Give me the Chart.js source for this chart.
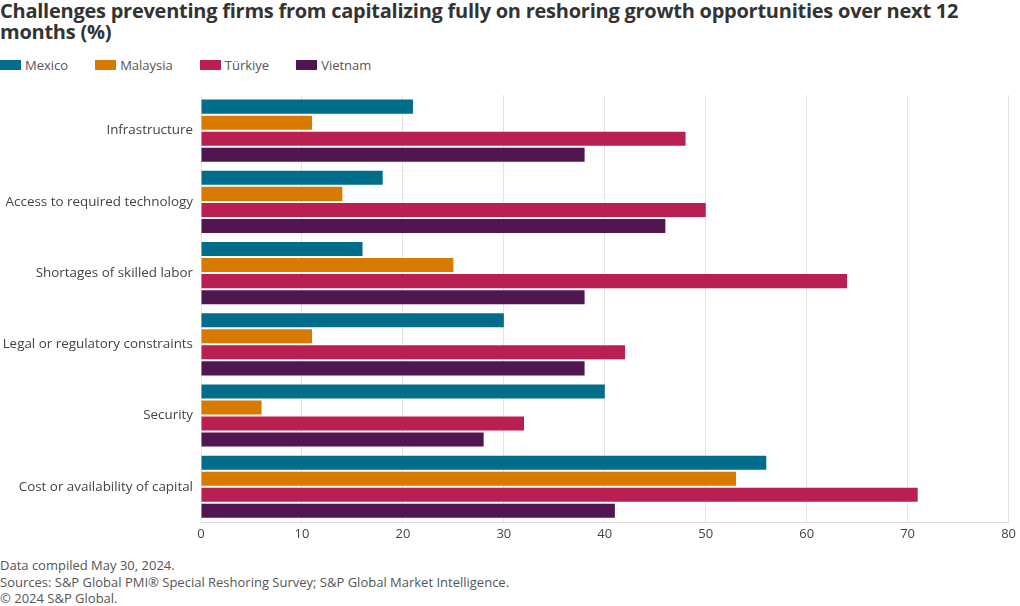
<!DOCTYPE html>
<html>
<head>
<meta charset="utf-8">
<script src="https://cdn.jsdelivr.net/npm/chart.js@4.4.1/dist/chart.umd.min.js"></script>
<style>
  html, body { margin: 0; padding: 0; background: #fff; }
  body { font-family: "Open Sans", sans-serif; }
  #wrap { width: 1020px; height: 606px; position: relative; overflow: hidden; }
  #title { position: absolute; left: 0; top: 0; width: 1010px; font-size: 20px; font-weight: 700; line-height: 21px; color: #333; letter-spacing: -0.25px; }
  #legend { position: absolute; left: 0; top: 56px; font-size: 13px; color: #555; display: flex; }
  #legend .item { display: flex; align-items: center; margin-right: 27px; }
  #legend .box { width: 21px; height: 10px; margin-right: 4px; }
  #chartBox { position: absolute; left: 0; top: 87px; width: 1020px; height: 459px; }
  #footer { position: absolute; left: 0; top: 557px; font-size: 13px; line-height: 16.5px; color: #555; }
</style>
</head>
<body>
<div id="wrap">
  <div id="title">Challenges preventing firms from capitalizing fully on reshoring growth opportunities over next 12 months (%)</div>
  <div id="legend"></div>
  <div id="chartBox"><canvas id="reshoringChart"></canvas></div>
  <div id="footer">Data compiled May 30, 2024.<br>Sources: S&amp;P Global PMI® Special Reshoring Survey; S&amp;P Global Market Intelligence.<br>© 2024 S&amp;P Global.</div>
</div>
<script>
const categories = [
    'Infrastructure',
    'Access to required technology',
    'Shortages of skilled labor',
    'Legal or regulatory constraints',
    'Security',
    'Cost or availability of capital'
];
const mexico   = [21, 18, 16, 30, 40, 56];
const malaysia = [11, 14, 25, 11, 6, 53];
const turkiye  = [48, 50, 64, 42, 32, 71];
const vietnam  = [38, 46, 38, 38, 28, 41];
const xTicks = [0, 10, 20, 30, 40, 50, 60, 70, 80];

Chart.defaults.font.family = '"Open Sans", sans-serif';
Chart.defaults.color = '#444';

function series(label, data, color) {
    return {
        label: label,
        data: data,
        backgroundColor: color,
        borderWidth: 0,
        categoryPercentage: 0.9,
        barPercentage: 0.875
    };
}

let ctx = document.getElementById('reshoringChart');
let reshoringChart = new Chart(ctx, {
    type: 'bar',
    data: {
        labels: categories,
        datasets: [
            series('Mexico', mexico, '#006e8a'),
            series('Malaysia', malaysia, '#d97a00'),
            series('Türkiye', turkiye, '#b91f50'),
            series('Vietnam', vietnam, '#4f1652')
        ]
    },
    options: {
        indexAxis: 'y',
        responsive: true,
        maintainAspectRatio: false,
        animation: false,
        layout: { padding: { left: 0, right: 9, top: 0, bottom: 0 } },
        plugins: {
            legend: { display: false },
            tooltip: { enabled: false }
        },
        scales: {
            x: {
                min: 0,
                max: 80,
                afterBuildTicks: function (axis) {
                    axis.ticks = xTicks.map(function (v) { return { value: v }; });
                },
                grid: { color: '#e4e4e4', drawTicks: false },
                border: { color: '#dcdcdc' },
                ticks: { color: '#444', font: { size: 13 }, padding: 4 }
            },
            y: {
                afterFit: function (axis) {
                    axis.width = 201;
                },
                grid: { display: false },
                border: { display: false },
                ticks: { color: '#444', font: { size: 13.4 }, padding: 0 }
            }
        }
    }
});

// legend built from the datasets
let legendEl = document.getElementById('legend');
reshoringChart.data.datasets.forEach(function (ds) {
    let item = document.createElement('div');
    item.className = 'item';
    item.innerHTML = '<span class="box" style="background:' + ds.backgroundColor + '"></span>' + ds.label;
    legendEl.appendChild(item);
});
</script>
</body>
</html>
